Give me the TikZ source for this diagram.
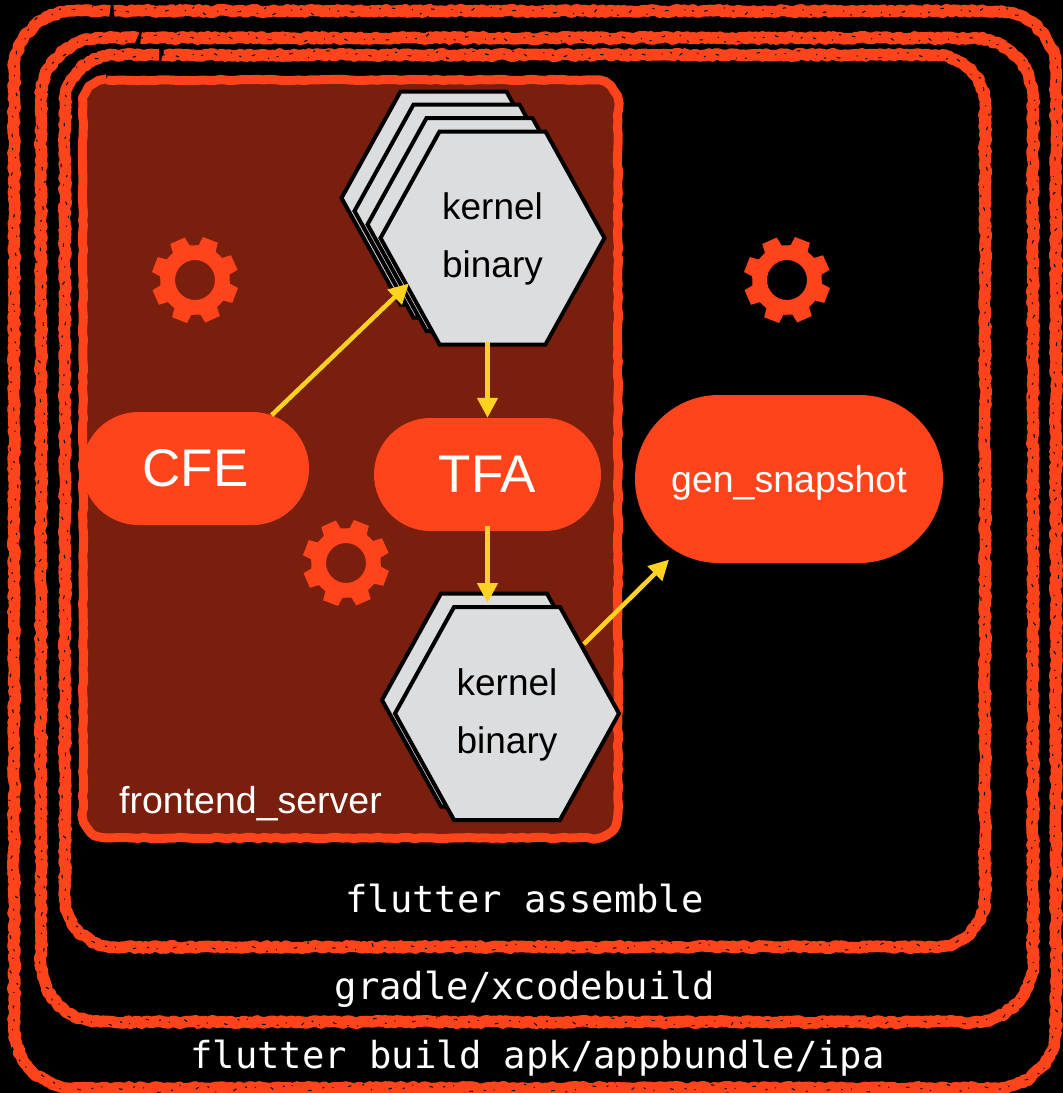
\documentclass[tikz,border=0pt]{standalone}
\usepackage{fontspec}
\setmainfont{Liberation Sans}
\setmonofont{DejaVu Sans Mono}
\usetikzlibrary{arrows.meta, decorations.pathmorphing, shapes.misc, shapes.symbols}

\definecolor{flamered}{HTML}{FF441C}
\definecolor{darkred}{HTML}{7A1F0D}
\definecolor{hexgray}{HTML}{DCDDDF}
\definecolor{arrowyellow}{HTML}{FFD221}

\tikzset{
  chalk/.style={draw=flamered, line width=11.5pt, line join=round, decorate,
    decoration={random steps, segment length=3pt, amplitude=1.3pt}},
  flecks/.style={draw=black, line width=1pt, decorate, dash pattern=on 2pt off 11pt on 3.5pt off 17pt on 1pt off 8pt,
    decoration={random steps, segment length=9pt, amplitude=4.5pt}},
  pill/.style={rounded rectangle, fill=flamered, text=white, inner sep=0},
  hexa/.style={signal, signal to=west and east, signal pointer angle=122, draw=black, fill=hexgray,
    line width=4pt, inner sep=0, outer sep=0, minimum width=224pt, minimum height=213pt, align=center,
    text depth=5pt, font=\fontsize{37}{58}\selectfont},
  yarrow/.style={draw=arrowyellow, line width=4.5pt, -{Triangle[length=20pt,width=20pt]}},
  mono/.style={text=white, font=\ttfamily\fontsize{37.2}{37.2}\selectfont},
  gear/.pic={
    \fill[flamered, even odd rule] (21-15:35) \foreach \a in {21,66,...,336} {
      -- (\a-15:35) -- (\a-10.5:43.7) -- (\a+10.5:43.7) -- (\a+15:35) } -- cycle
      (0,0) circle (20);
  }
}

\begin{document}
\begin{tikzpicture}[x=1pt, y=-1pt]
  \fill[black] (0,0) rectangle (1063,1093);
  \useasboundingbox (0,0) rectangle (1063,1093);

  % the three build steps
  \draw[chalk] (114,11) -- (996,11) arc[start angle=-90,end angle=0,radius=60] -- (1056,1028) arc[start angle=0,end angle=90,radius=60]
    -- (74,1088) arc[start angle=90,end angle=180,radius=60] -- (14,71) arc[start angle=180,end angle=270,radius=60] -- (110,11);
  \draw[flecks] (114,11) -- (996,11) arc[start angle=-90,end angle=0,radius=60] -- (1056,1028) arc[start angle=0,end angle=90,radius=60]
    -- (74,1088) arc[start angle=90,end angle=180,radius=60] -- (14,71) arc[start angle=180,end angle=270,radius=60] -- (110,11);
  \draw[chalk] (141,38) -- (973,38) arc[start angle=-90,end angle=0,radius=60] -- (1033,962) arc[start angle=0,end angle=90,radius=60]
    -- (101,1022) arc[start angle=90,end angle=180,radius=60] -- (41,98) arc[start angle=180,end angle=270,radius=60] -- (137,38);
  \draw[flecks] (141,38) -- (973,38) arc[start angle=-90,end angle=0,radius=60] -- (1033,962) arc[start angle=0,end angle=90,radius=60]
    -- (101,1022) arc[start angle=90,end angle=180,radius=60] -- (41,98) arc[start angle=180,end angle=270,radius=60] -- (137,38);
  \draw[chalk] (163,55) -- (935,55) arc[start angle=-90,end angle=0,radius=50] -- (985,897) arc[start angle=0,end angle=90,radius=50]
    -- (115,947) arc[start angle=90,end angle=180,radius=50] -- (65,105) arc[start angle=180,end angle=270,radius=50] -- (159,55);
  \draw[flecks] (163,55) -- (935,55) arc[start angle=-90,end angle=0,radius=50] -- (985,897) arc[start angle=0,end angle=90,radius=50]
    -- (115,947) arc[start angle=90,end angle=180,radius=50] -- (65,105) arc[start angle=180,end angle=270,radius=50] -- (159,55);

  \node[mono] (assemble) at (524.5,899) {flutter assemble};
  \node[mono] (gradle) at (525,989) {gradle/xcodebuild};
  \node[mono] (build) at (537.5,1058) {flutter build apk/appbundle/ipa};

  % frontend_server box
  \draw[draw=flamered, fill=darkred, line width=9pt, line join=round, decorate,
    decoration={random steps, segment length=6pt, amplitude=0.7pt}]
    (107,80) -- (594,80) arc[start angle=-90,end angle=0,radius=24] -- (618,814) arc[start angle=0,end angle=90,radius=24]
    -- (107,838) arc[start angle=90,end angle=180,radius=24] -- (83,104) arc[start angle=180,end angle=270,radius=24] -- cycle;
  \node[text=white, font=\fontsize{37.5}{37.5}\selectfont, anchor=base] (server) at (250.5,813) {frontend\_server};

  \pic at (195,280) {gear};
  \pic at (346,563) {gear};
  \pic at (787,280) {gear};

  \node[hexa] (kernel1) at (453.5,198) {};
  \node[hexa] (kernel2) at (466.5,211) {};
  \node[hexa] (kernel3) at (479.5,224.5) {};
  \node[hexa] (kernel4) at (492.5,238) {kernel\\binary};

  \node[hexa] (kernel5) at (494,700) {};
  \node[hexa] (kernel6) at (507,713.5) {kernel\\binary};

  \node[pill, minimum width=227pt, minimum height=113pt, font=\fontsize{53}{53}\selectfont] (cfe) at (195.5,468.5) {CFE};
  \node[pill, minimum width=227pt, minimum height=113pt, font=\fontsize{53}{53}\selectfont] (tfa) at (487.5,474.5) {TFA};
  \node[pill, minimum width=308pt, minimum height=168pt, text depth=0pt, font=\fontsize{37.5}{37.5}\selectfont] (gen) at (789,479) {gen\_snapshot};

  \draw[yarrow, shorten >=-3pt] (cfe.35) -- (kernel4.209);
  \draw[yarrow, xshift=-1.5pt, shorten <=-3pt] (tfa.north |- kernel4.south) -- (tfa.north);
  \draw[yarrow, xshift=-1.5pt, shorten <=-5pt, shorten >=4pt] (tfa.south) -- (tfa.south |- kernel6.north);
  \draw[yarrow, shorten <=3pt, shorten >=11pt] (kernel6.42) -- (gen.213);
\end{tikzpicture}
\end{document}
